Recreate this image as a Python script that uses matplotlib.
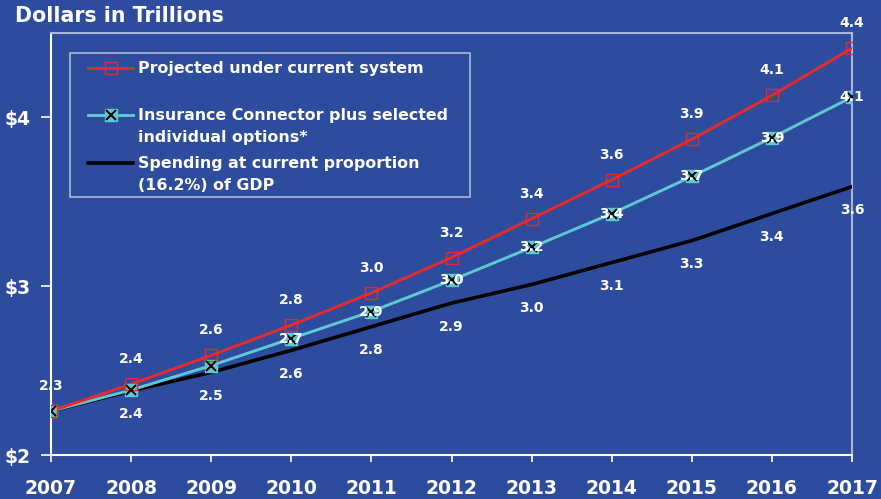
import matplotlib
matplotlib.use('Agg')
import matplotlib.pyplot as plt
from matplotlib.patches import Rectangle

# data (trillions of dollars)
years = [2007, 2008, 2009, 2010, 2011, 2012, 2013, 2014, 2015, 2016, 2017]
projected = [2.26, 2.42, 2.59, 2.77, 2.96, 3.17, 3.40, 3.63, 3.87, 4.13, 4.41]
connector = [2.26, 2.385, 2.53, 2.69, 2.85, 3.035, 3.23, 3.43, 3.65, 3.88, 4.12]
gdp_share = [2.26, 2.38, 2.49, 2.62, 2.76, 2.90, 3.01, 3.14, 3.27, 3.43, 3.59]

projected_labels = ['2.3', '2.4', '2.6', '2.8', '3.0', '3.2', '3.4', '3.6', '3.9', '4.1', '4.4']
connector_labels = ['', '', '', '2.7', '2.9', '3.0', '3.2', '3.4', '3.7', '3.9', '4.1']
gdp_labels = ['', '2.4', '2.5', '2.6', '2.8', '2.9', '3.0', '3.1', '3.3', '3.4', '3.6']

ytick_vals = [2, 3, 4]
ytick_text = ['$2', '$3', '$4']

legend_labels = ['Projected under current system',
                 'Insurance Connector plus selected\nindividual options*',
                 'Spending at current proportion\n(16.2%) of GDP']

bg = '#2E4C9E'
red = '#E82A2A'
cyan = '#5FC8D2'
frame_light = '#A9B6DA'

plt.rcParams['font.family'] = ['DejaVu Sans']

fig = plt.figure(figsize=(8.81, 4.99), dpi=100, facecolor=bg)
ax = fig.add_axes([51 / 881, 44 / 499, 801 / 881, 422 / 499])
ax.set_facecolor(bg)

ax.plot(years, gdp_share, color='black', lw=2.6, zorder=3)
ax.plot(years, connector, color=cyan, lw=2.1, zorder=4)
ax.plot(years, connector, ls='none', marker='s', ms=8.5, mfc=cyan, mec=cyan, zorder=5)
ax.plot(years, connector, ls='none', marker='x', ms=7, mew=1.4, color='black', zorder=6)
ax.plot(years, projected, color=red, lw=2.1, zorder=4)
ax.plot(years, projected, ls='none', marker='s', ms=8.5, mfc='none', mec=red, mew=1.0, zorder=5)

lab_kw = dict(color='white', fontsize=10, fontweight='bold', ha='center', va='center',
              textcoords='offset points', zorder=7, annotation_clip=False)
for x, y, t in zip(years, projected, projected_labels):
    if t:
        ax.annotate(t, (x, y), xytext=(0, 18), **lab_kw)
for x, y, t in zip(years, connector, connector_labels):
    if t:
        ax.annotate(t, (x, y), xytext=(0, 0), **lab_kw)
for x, y, t in zip(years, gdp_share, gdp_labels):
    if t:
        ax.annotate(t, (x, y), xytext=(0, -17), **lab_kw)

ax.set_xlim(2007, 2017)
ax.set_ylim(2, 4.5)
ax.set_xticks(years)
ax.set_xticklabels([str(y) for y in years], fontsize=13.5, fontweight='bold', color='white')
ax.set_yticks(ytick_vals)
ax.set_yticklabels(ytick_text, fontsize=13.5, fontweight='bold', color='white')
ax.tick_params(axis='x', length=5, width=1.2, color='white', pad=12)
ax.tick_params(axis='y', length=7, width=1.2, color='white', pad=8)

for side in ['left', 'bottom']:
    ax.spines[side].set_color('white')
    ax.spines[side].set_linewidth(1.5)
for side in ['top', 'right']:
    ax.spines[side].set_color(frame_light)
    ax.spines[side].set_linewidth(1.5)

# legend drawn by hand so handles line up with the first text line
ax.add_patch(Rectangle((0.0237, 0.611), 0.4993, 0.3416, transform=ax.transAxes,
                       facecolor=bg, edgecolor=frame_light, lw=1.2, zorder=8))
hx = [0.0462, 0.1024]
hm = sum(hx) / 2
rows = [0.917, 0.806, 0.692]
ax.plot(hx, [rows[0]] * 2, color=red, lw=2.1, transform=ax.transAxes, zorder=9, clip_on=False)
ax.plot([hm], [rows[0]], marker='s', ms=8.5, mfc='none', mec=red, transform=ax.transAxes, zorder=10)
ax.plot(hx, [rows[1]] * 2, color=cyan, lw=2.1, transform=ax.transAxes, zorder=9)
ax.plot([hm], [rows[1]], marker='s', ms=8.5, mfc=cyan, mec=cyan, transform=ax.transAxes, zorder=10)
ax.plot([hm], [rows[1]], marker='x', ms=7, mew=1.4, color='black', transform=ax.transAxes, zorder=11)
ax.plot(hx, [rows[2]] * 2, color='black', lw=2.6, transform=ax.transAxes, zorder=9)
for r, t in zip(rows, legend_labels):
    ax.text(0.1086, r + 0.016, t, transform=ax.transAxes, color='white', fontsize=11.4,
            fontweight='bold', ha='left', va='top', linespacing=1.55, zorder=10)

fig.text(15 / 881, 1 - 16 / 499, 'Dollars in Trillions', color='white', fontsize=14.8,
         fontweight='bold', ha='left', va='center')

fig.savefig('out.png', dpi=100, facecolor=bg)
